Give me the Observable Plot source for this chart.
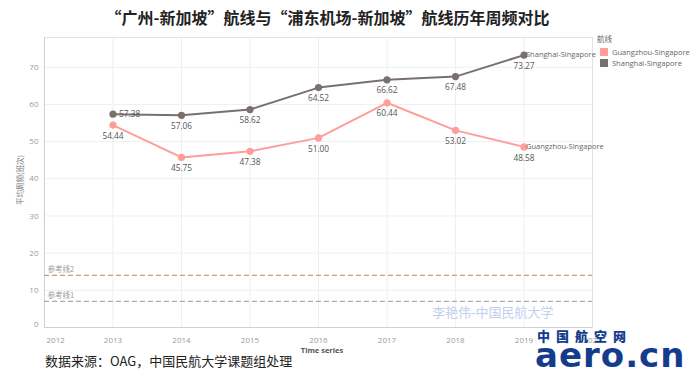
<!DOCTYPE html>
<html>
<head>
<meta charset="utf-8">
<script src="https://cdn.jsdelivr.net/npm/d3@7"></script>
<script src="https://cdn.jsdelivr.net/npm/@observablehq/plot@0.6"></script>
<style>
  html, body { margin: 0; padding: 0; background: #fff; }
  #wrap { position: relative; width: 692px; height: 378px; overflow: hidden; font-family: "Open Sans", "Noto Sans", sans-serif; }
  #wrap svg { position: absolute; left: 0; top: 0; }
  .abs { position: absolute; white-space: nowrap; }
</style>
</head>
<body>
<div id="wrap"></div>
<script>
const years = [2013, 2014, 2015, 2016, 2017, 2018, 2019];
const guangzhou = [54.44, 45.75, 47.38, 51.00, 60.44, 53.02, 48.58];
const shanghai = [57.38, 57.06, 58.62, 64.52, 66.62, 67.48, 73.27];
const seriesNames = ["Guangzhou-Singapore", "Shanghai-Singapore"];
const seriesColors = ["#ff9d9a", "#79706e"];
const xTicks = [2012, 2013, 2014, 2015, 2016, 2017, 2018, 2019, 2020];
const yTicks = [0, 10, 20, 30, 40, 50, 60, 70];
const refNames = ["参考线1", "参考线2"];
const refValues = [7, 14];
const refColors = ["#b0aaa8", "#c8997f"];

const rows = [];
years.forEach((y, i) => {
  rows.push({year: y, value: guangzhou[i], series: seriesNames[0]});
  rows.push({year: y, value: shanghai[i], series: seriesNames[1]});
});
const refs = refNames.map((n, i) => ({name: n, value: refValues[i]}));
const first = rows.filter(d => d.series === seriesNames[1] && d.year === years[0]);
const others = rows.filter(d => !(d.series === seriesNames[1] && d.year === years[0]));
const ends = rows.filter(d => d.year === years[years.length - 1]);
const fmt = d3.format(".2f");
const tickFill = "#9a9a9a";

const plot = Plot.plot({
  width: 692,
  height: 378,
  marginTop: 37,
  marginRight: 100,
  marginBottom: 51,
  marginLeft: 44,
  style: {fontFamily: "'Open Sans', 'Noto Sans', sans-serif", background: "transparent"},
  x: {domain: [2012, 2020], axis: null},
  y: {domain: [0, 78], axis: null},
  color: {domain: seriesNames, range: seriesColors},
  marks: [
    Plot.gridX(xTicks, {stroke: "#efefef", strokeOpacity: 1}),
    Plot.gridY(yTicks, {stroke: "#efefef", strokeOpacity: 1}),
    Plot.frame({stroke: "#e3e3e3"}),
    Plot.ruleX([2012], {stroke: "#d0d0d0"}),
    Plot.ruleY([0], {stroke: "#d0d0d0"}),
    // reference lines
    Plot.ruleY([refs[0]], {y: "value", stroke: refColors[0], strokeDasharray: "5,3", strokeWidth: 1.2}),
    Plot.ruleY([refs[1]], {y: "value", stroke: refColors[1], strokeDasharray: "5,3", strokeWidth: 1.2}),
    Plot.text(refs, {x: 2012, y: "value", text: "name", textAnchor: "start", dx: 3, dy: -6, fill: "#9a9a9a", fontSize: 7.5, fontFamily: "'Noto Sans CJK SC', sans-serif"}),
    // axes tick labels
    Plot.text(xTicks.slice(0, 1), {x: d => d, y: 0, text: d => String(d), dy: 10, dx: 2, lineAnchor: "top", textAnchor: "start", fill: tickFill, fontSize: 8}),
    Plot.text(xTicks.slice(1), {x: d => d, y: 0, text: d => String(d), dy: 10, lineAnchor: "top", fill: tickFill, fontSize: 8}),
    Plot.text(yTicks.slice(0, 1), {x: 2012, y: d => d, text: d => String(d), dx: -6, dy: -1, textAnchor: "end", lineAnchor: "bottom", fill: tickFill, fontSize: 8}),
    Plot.text(yTicks.slice(1), {x: 2012, y: d => d, text: d => String(d), dx: -6, textAnchor: "end", fill: tickFill, fontSize: 8}),
    // lines & points
    Plot.line(rows, {x: "year", y: "value", z: "series", stroke: "series", strokeWidth: 2}),
    Plot.dot(rows, {x: "year", y: "value", fill: "series", r: 3.6}),
    // value labels
    Plot.text(others, {x: "year", y: "value", text: d => fmt(d.value), dy: 11, fill: "#555", fontSize: 8.3}),
    Plot.text(first, {x: "year", y: "value", text: d => fmt(d.value), dx: 6, textAnchor: "start", fill: "#555", fontSize: 8.3}),
    Plot.text(ends, {x: "year", y: "value", text: "series", dx: 2, textAnchor: "start", fill: "#666", fontSize: 7.5})
  ]
});

const wrap = document.getElementById("wrap");
wrap.appendChild(plot);

function addText(txt, css) {
  const d = document.createElement("div");
  d.className = "abs";
  d.textContent = txt;
  Object.assign(d.style, css);
  wrap.appendChild(d);
  return d;
}

// title
addText("“广州-新加坡”航线与“浦东机场-新加坡”航线历年周频对比", {
  left: "0px", width: "655px", top: "5px", textAlign: "center",
  fontFamily: "'Noto Sans CJK SC', sans-serif", fontWeight: "bold", fontSize: "16px", color: "#222"
});

// y axis title
addText("平均周频(班次)", {
  left: "19px", top: "180px", transform: "translate(-50%,-50%) rotate(-90deg)",
  fontFamily: "'Noto Sans CJK SC', sans-serif", fontSize: "7.5px", color: "#777"
});

// x axis title
addText("Time series", {
  left: "322px", top: "350px", transform: "translate(-50%,-50%)",
  fontWeight: "bold", fontSize: "7.5px", color: "#555"
});

// source
addText("数据来源：OAG，中国民航大学课题组处理", {
  left: "45px", top: "351px", fontFamily: "'Noto Sans CJK SC', sans-serif", fontSize: "13px", color: "#222"
});

// watermark
addText("李艳伟-中国民航大学", {
  left: "432px", top: "302px", fontFamily: "'Noto Sans CJK SC', sans-serif", fontSize: "13px", color: "#c3d0ec"
});

// legend
const leg = document.createElement("div");
leg.className = "abs";
Object.assign(leg.style, {left: "597px", top: "33px", fontSize: "7.5px", color: "#666"});
const lt = document.createElement("div");
lt.textContent = "航线";
lt.style.fontFamily = "'Noto Sans CJK SC', sans-serif";
lt.style.marginBottom = "2px";
leg.appendChild(lt);
seriesNames.forEach((n, i) => {
  const row = document.createElement("div");
  row.style.display = "flex";
  row.style.alignItems = "center";
  row.style.height = "11px";
  const sw = document.createElement("span");
  Object.assign(sw.style, {display: "inline-block", width: "8px", height: "8px", background: seriesColors[i], marginLeft: "3px", marginRight: "4px"});
  row.appendChild(sw);
  const tx = document.createElement("span");
  tx.textContent = n;
  row.appendChild(tx);
  leg.appendChild(row);
});
wrap.appendChild(leg);

// logo (as text)
addText("中国航空网", {
  left: "537px", top: "328px", fontFamily: "'Noto Sans CJK SC', sans-serif", fontWeight: "900",
  fontSize: "13px", letterSpacing: "6px", color: "#143c8c", lineHeight: "16px"
});
addText("aero.cn", {
  left: "535px", top: "336px", fontFamily: "'DejaVu Sans', sans-serif", fontWeight: "bold",
  fontSize: "34px", color: "#143c8c", lineHeight: "38px", letterSpacing: "1px"
});
</script>
</body>
</html>
